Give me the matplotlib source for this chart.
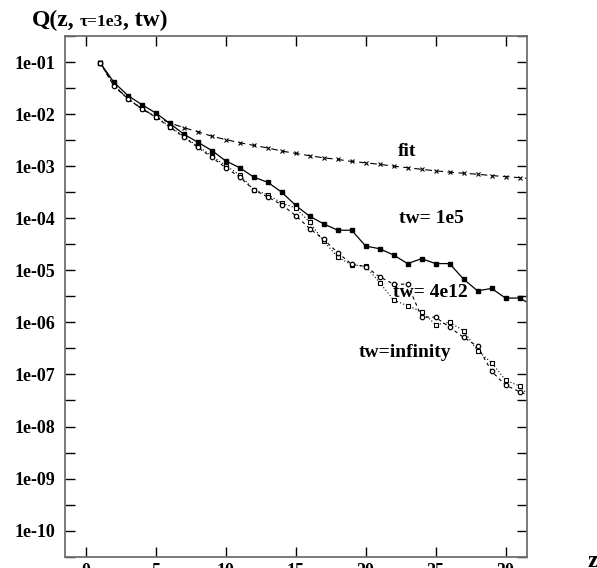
import numpy as np
import matplotlib
matplotlib.use('Agg')
import matplotlib.pyplot as plt

plt.rcParams['font.family'] = ['Liberation Serif', 'DejaVu Serif']
plt.rcParams['font.weight'] = 'bold'

z = np.arange(1, 33)

# log10 of Q
log_fit = [-1.00, -1.45, -1.71, -1.90, -2.05, -2.17, -2.26, -2.34, -2.425, -2.49,
           -2.55, -2.60, -2.65, -2.71, -2.755, -2.80, -2.84, -2.87, -2.91, -2.935,
           -2.965, -3.00, -3.03, -3.06, -3.09, -3.115, -3.135, -3.155, -3.18, -3.20,
           -3.22, -3.24]
log_tw1e5 = [-1.01, -1.39, -1.643, -1.82, -1.98, -2.18, -2.386, -2.54, -2.70, -2.90,
             -3.03, -3.21, -3.31, -3.50, -3.754, -3.963, -4.108, -4.23, -4.23, -4.535,
             -4.585, -4.707, -4.871, -4.776, -4.871, -4.871, -5.17, -5.394, -5.348, -5.533,
             -5.533, -5.68]
log_tw4e12 = [-1.01, -1.44, -1.70, -1.89, -2.05, -2.24, -2.43, -2.62, -2.80, -2.99,
              -3.17, -3.45, -3.55, -3.708, -3.803, -4.078, -4.44, -4.745, -4.897, -4.92,
              -5.237, -5.572, -5.68, -5.793, -6.043, -5.999, -6.16, -6.545, -6.772, -7.109,
              -7.224, -7.49]
log_twinf = [-1.01, -1.46, -1.71, -1.90, -2.06, -2.25, -2.44, -2.64, -2.83, -3.03,
             -3.21, -3.454, -3.593, -3.74, -3.95, -4.198, -4.408, -4.661, -4.884, -4.928,
             -5.125, -5.266, -5.266, -5.90, -5.90, -6.094, -6.286, -6.46, -6.938, -7.205,
             -7.33, -7.44]

xticks = [0, 5, 10, 15, 20, 25, 30]
ydecades = list(range(-1, -11, -1))

W, H = 597, 568
fig = plt.figure(figsize=(W / 100, H / 100), dpi=100)
ax = fig.add_axes([65 / W, 1 - 556.7 / H, (526.5 - 65) / W, (556.7 - 36) / H])
ax.set_yscale('log')

ax.plot(z, 10.0 ** np.array(log_fit), color='black', lw=0.8, ls=(0, (6, 4)),
        marker='x', ms=3, mew=0.8)
ax.plot(z, 10.0 ** np.array(log_tw1e5), color='black', lw=0.9, ls='-',
        marker='s', ms=3.5, mfc='black')
ax.plot(z, 10.0 ** np.array(log_tw4e12), color='black', lw=0.8, ls=(0, (1, 2)),
        marker='s', ms=3.5, mfc='white', mew=0.8)
ax.plot(z, 10.0 ** np.array(log_twinf), color='black', lw=0.8, ls=(0, (3, 3)),
        marker='o', ms=3.2, mfc='white', mew=0.9)

ax.set_xlim(-1.5, 31.5)
ax.set_ylim(10 ** -10.45, 10 ** -0.52)

ax.set_xticks(xticks)
ax.set_xticklabels([str(t) for t in xticks])
ax.set_yticks([10.0 ** d for d in ydecades])
ax.set_yticklabels(['1e-%02d' % (-d) for d in ydecades])
ax.set_yticks([10.0 ** (d - 0.5) for d in range(0, -11, -1)], minor=True)
ax.yaxis.set_minor_formatter(plt.NullFormatter())

ax.tick_params(which='both', direction='in', length=7.2, width=1.0,
               top=True, right=True, labelsize=13, color='black')
ax.tick_params(axis='x', pad=4.5)
ax.tick_params(axis='y', pad=7)
for sp in ax.spines.values():
    sp.set_color('#707070')
    sp.set_linewidth(1.3)

# curve labels
ax.text(22.96, 10 ** -2.71, 'fit', ha='center', va='center', fontsize=14)
ax.text(24.68, 10 ** -4.0, 'tw= 1e5', ha='center', va='center', fontsize=14)
ax.text(24.6, 10 ** -5.42, 'tw= 4e12', ha='center', va='center', fontsize=14)
ax.text(22.8, 10 ** -6.58, 'tw=infinity', ha='center', va='center', fontsize=14)

# title and x label
fig.text(32 / W, 1 - 26 / H, 'Q(z,', fontsize=17, va='baseline', ha='left')
fig.text(80 / W, 1 - 26 / H, '\u03c4=1e3', fontsize=12.5, va='baseline', ha='left')
fig.text(123 / W, 1 - 26 / H, ', tw)', fontsize=17, va='baseline', ha='left')
fig.text(587 / W, 1 - 551 / H, 'z', fontsize=17, va='top', ha='left')

fig.savefig('out.png', dpi=100)
